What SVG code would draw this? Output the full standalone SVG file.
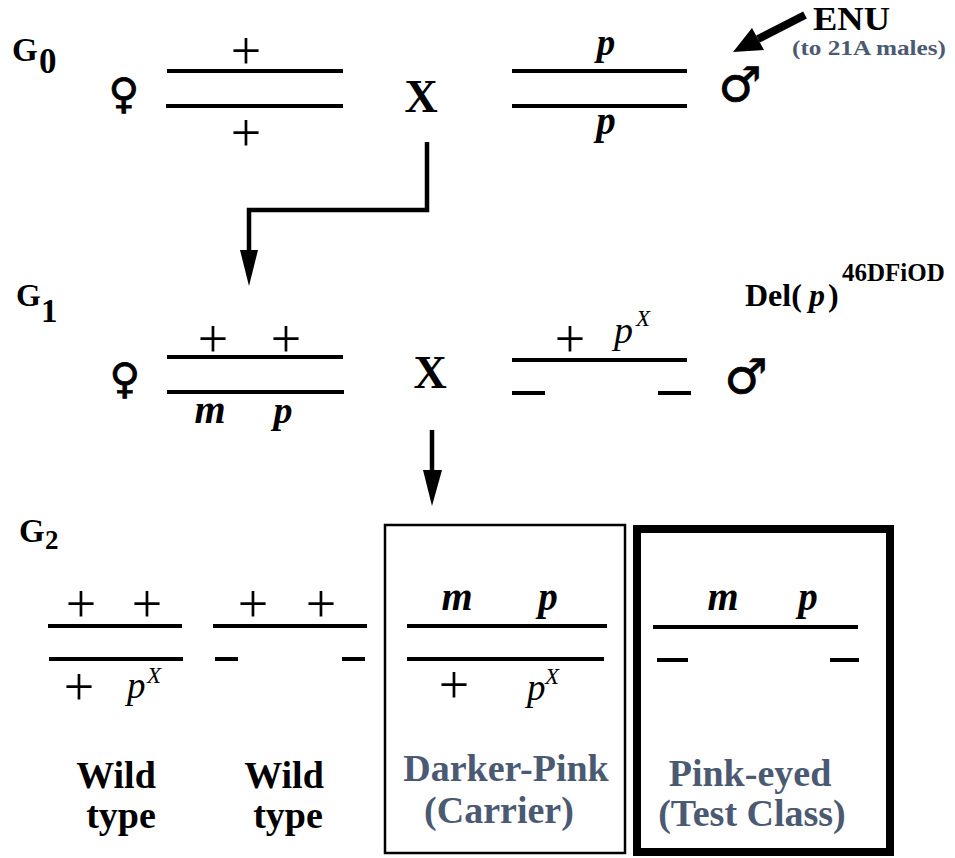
<svg xmlns="http://www.w3.org/2000/svg" width="955" height="858" viewBox="0 0 955 858">
<style>
.chr{stroke:#000;stroke-width:4;stroke-linecap:butt;fill:none}
.con{stroke:#000;stroke-width:4.5;fill:none}
.gen{font-family:"Liberation Serif",serif;font-weight:bold;fill:#000}
.plus{font-family:"Liberation Serif",serif;font-size:54px;fill:#000;text-anchor:middle}
.bi{font-family:"Liberation Serif",serif;font-weight:bold;font-style:italic;fill:#000;text-anchor:middle}
.it{font-family:"Liberation Serif",serif;font-style:italic;fill:#000}
.sex{font-family:"DejaVu Sans",sans-serif;font-weight:bold;fill:#000;stroke:#000;stroke-width:0.8;text-anchor:middle}
.fem{font-size:42px}
.mal{font-size:48px}
.cross{font-family:"Liberation Serif",serif;font-weight:bold;font-size:46px;fill:#000;text-anchor:middle}
.lab{font-family:"Liberation Serif",serif;font-weight:bold;font-size:38px;text-anchor:middle}
.blue{fill:#4b5a73}
.blk{fill:#000}
</style>
<rect width="955" height="858" fill="#fff"/>

<g id="gen-labels">
<text class="gen" x="12" y="61" font-size="33">G</text><text class="gen" x="39" y="73" font-size="35">0</text>
<text class="gen" x="16" y="306" font-size="32">G</text><text class="gen" x="41" y="322" font-size="33">1</text>
<text class="gen" x="19" y="542" font-size="33">G</text><text class="gen" x="45" y="549" font-size="27">2</text>
</g>

<g id="g0-female">
<text class="sex fem" x="124" y="108">♀</text>
<line class="chr" x1="167" y1="71" x2="343" y2="71"/>
<line class="chr" x1="166" y1="106" x2="343" y2="106"/>
<text class="plus" x="246" y="69">+</text>
<text class="plus" x="246" y="151">+</text>
</g>

<g id="g0-cross"><text class="cross" x="421" y="112">X</text></g>

<g id="g0-male">
<line class="chr" x1="512" y1="71" x2="687" y2="71"/>
<line class="chr" x1="512" y1="106" x2="687" y2="106"/>
<text class="bi" x="606" y="55" font-size="37">p</text>
<text class="bi" x="606" y="134" font-size="39">p</text>
<text class="sex mal" x="740" y="101">♂</text>
</g>

<g id="enu">
<text class="gen" x="813" y="30" font-size="33" textLength="77" lengthAdjust="spacingAndGlyphs">ENU</text>
<text class="gen blue" x="792" y="55" font-size="22" textLength="154" lengthAdjust="spacingAndGlyphs">(to 21A males)</text>
</g>

<g id="g1-female">
<text class="sex fem" x="125" y="393">♀</text>
<line class="chr" x1="167" y1="357" x2="343" y2="357"/>
<line class="chr" x1="167" y1="392" x2="344" y2="392"/>
<text class="plus" x="213" y="357" font-size="48">+</text>
<text class="plus" x="286" y="357" font-size="48">+</text>
<text class="bi" x="210" y="423" font-size="40">m</text>
<text class="bi" x="283" y="423" font-size="38">p</text>
</g>

<g id="g1-cross"><text class="cross" x="430" y="388">X</text></g>

<g id="g1-male">
<line class="chr" x1="512" y1="360" x2="687" y2="360"/>
<line class="chr" x1="512" y1="393" x2="545" y2="393"/>
<line class="chr" x1="658" y1="393" x2="691" y2="393"/>
<text class="plus" x="570" y="357" font-size="48">+</text>
<text class="it" x="614" y="343" font-size="38">p</text>
<text class="it" x="636" y="326" font-size="23">X</text>
<text class="sex mal" x="746" y="393">♂</text>
</g>

<g id="del-label">
<text class="gen" x="745" y="306" font-size="32">Del(</text>
<text class="gen" x="809" y="306" font-size="32" font-style="italic">p</text>
<text class="gen" x="828" y="306" font-size="32">)</text>
<text class="gen" x="842" y="281" font-size="25">46DFiOD</text>
</g>

<g id="g2-wild1">
<line class="chr" x1="48" y1="626" x2="182" y2="626"/>
<line class="chr" x1="49" y1="659" x2="183" y2="659"/>
<text class="plus" x="81" y="622">+</text>
<text class="plus" x="147" y="622">+</text>
<text class="plus" x="79" y="705">+</text>
<text class="it" x="127" y="698" font-size="37">p</text>
<text class="it" x="147" y="683" font-size="23">X</text>
<text class="lab blk" x="116" y="788">Wild</text>
<text class="lab blk" x="121" y="828">type</text>
</g>

<g id="g2-wild2">
<line class="chr" x1="213" y1="626" x2="367" y2="626"/>
<line class="chr" x1="215" y1="659" x2="238" y2="659"/>
<line class="chr" x1="342" y1="659" x2="365" y2="659"/>
<text class="plus" x="253" y="622">+</text>
<text class="plus" x="321" y="622">+</text>
<text class="lab blk" x="284" y="788">Wild</text>
<text class="lab blk" x="288" y="828">type</text>
</g>

<g id="g2-carrier">
<rect x="385" y="525" width="240" height="328" fill="none" stroke="#000" stroke-width="2.5"/>
<line class="chr" x1="407" y1="626" x2="607" y2="626"/>
<line class="chr" x1="407" y1="659" x2="604" y2="659"/>
<text class="bi" x="457" y="610" font-size="40">m</text>
<text class="bi" x="548" y="610" font-size="39">p</text>
<text class="plus" x="454" y="703">+</text>
<text class="it" x="527" y="700" font-size="37">p</text>
<text class="it" x="545" y="684" font-size="23">X</text>
<text class="lab blue" x="506" y="781">Darker-Pink</text>
<text class="lab blue" x="499" y="823">(Carrier)</text>
</g>

<g id="g2-test">
<rect x="637" y="529" width="253" height="323" fill="none" stroke="#000" stroke-width="8"/>
<line class="chr" x1="653" y1="627" x2="858" y2="627"/>
<line class="chr" x1="657" y1="660" x2="688" y2="660"/>
<line class="chr" x1="830" y1="660" x2="859" y2="660"/>
<text class="bi" x="723" y="610" font-size="40">m</text>
<text class="bi" x="808" y="610" font-size="39">p</text>
<text class="lab blue" x="750" y="786">Pink-eyed</text>
<text class="lab blue" x="752" y="826">(Test Class)</text>
</g>

<g id="connectors">
<polyline class="con" points="427,142 427,210 249,210 249,252"/>
<polygon points="240,250 258,250 249,286" fill="#000"/>
<line class="con" x1="432" y1="430" x2="432" y2="472"/>
<polygon points="423,470 442,470 432,506" fill="#000"/>
<line x1="805" y1="15" x2="758" y2="39" stroke="#000" stroke-width="8"/>
<polygon points="733,52 764,50 752,28" fill="#000"/>
</g>
</svg>
